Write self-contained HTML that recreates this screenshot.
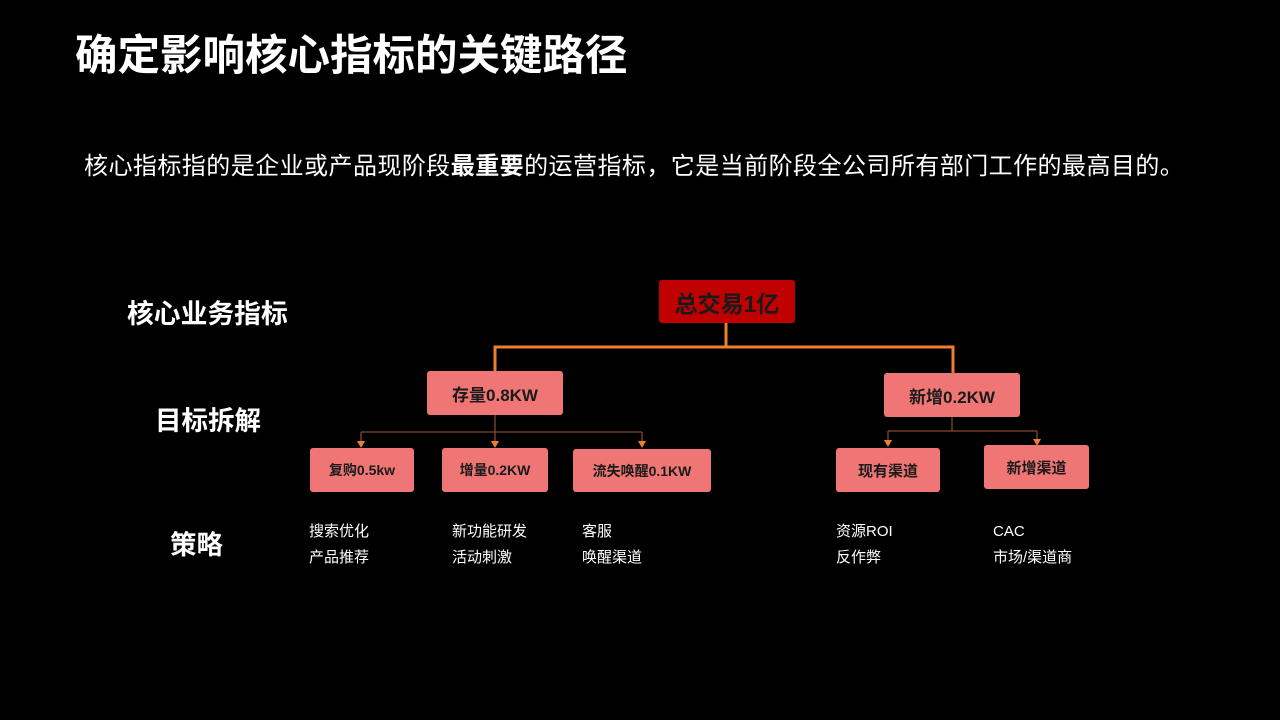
<!DOCTYPE html>
<html><head><meta charset="utf-8"><style>
html,body{margin:0;padding:0;background:#000;width:1280px;height:720px;overflow:hidden;position:relative;font-family:"Liberation Sans","Noto Sans CJK SC",sans-serif}
.t{position:absolute;white-space:nowrap;color:#fff}
.b{position:absolute;background:#f07575;border-radius:3px;color:#1a1a1a;font-weight:bold;display:flex;align-items:center;justify-content:center;white-space:nowrap}
.s{position:absolute;color:#fff;font-size:15px;line-height:26px;white-space:nowrap}
</style></head><body>
<div class="t" style="left:75px;top:30px;font-size:42.5px;font-weight:bold;line-height:54px">确定影响核心指标的关键路径</div>
<div class="t" style="left:84px;top:152px;font-size:24px;letter-spacing:0.45px;line-height:30px">核心指标指的是企业或产品现阶段<b>最重要</b>的运营指标，它是当前阶段全公司所有部门工作的最高目的。</div>
<div class="t" style="left:127px;top:298px;font-size:26.8px;font-weight:bold;line-height:32px">核心业务指标</div>
<div class="t" style="left:155px;top:405px;font-size:26.5px;font-weight:bold;line-height:32px">目标拆解</div>
<div class="t" style="left:170px;top:529px;font-size:26.5px;font-weight:bold;line-height:32px">策略</div>

<svg style="position:absolute;left:0;top:0" width="1280" height="720">
<g stroke="#ed7d31" stroke-width="3" fill="none">
<path d="M726 323V347M495 371V347H953V373"/>
</g>
<g stroke="#7f4a2a" stroke-width="1.3" fill="none">
<path d="M495 415V432M361 432H642M361 432V442M495 432V442M642 432V442"/>
<path d="M952 417V431M888 431H1037M888 431V440M1037 431V439"/>
</g>
<g fill="#ed7d31">
<path d="M357 441h8l-4 7z"/><path d="M491 441h8l-4 7z"/><path d="M638 441h8l-4 7z"/>
<path d="M884 440h8l-4 7z"/><path d="M1033 439h8l-4 7z"/>
</g>
</svg>

<div class="b" style="left:659px;top:280px;width:136px;height:43px;background:#c00000;font-size:23px">总交易1亿</div>
<div class="b" style="left:427px;top:371px;width:136px;height:44px;font-size:17px">存量0.8KW</div>
<div class="b" style="left:884px;top:373px;width:136px;height:44px;font-size:17px">新增0.2KW</div>
<div class="b" style="left:310px;top:448px;width:104px;height:44px;font-size:14px">复购0.5kw</div>
<div class="b" style="left:442px;top:448px;width:106px;height:44px;font-size:14px">增量0.2KW</div>
<div class="b" style="left:573px;top:449px;width:138px;height:43px;font-size:14px">流失唤醒0.1KW</div>
<div class="b" style="left:836px;top:448px;width:104px;height:44px;font-size:15px">现有渠道</div>
<div class="b" style="left:984px;top:445px;width:105px;height:44px;font-size:15px">新增渠道</div>

<div class="s" style="left:309px;top:519px">搜索优化<br>产品推荐</div>
<div class="s" style="left:452px;top:519px">新功能研发<br>活动刺激</div>
<div class="s" style="left:582px;top:519px">客服<br>唤醒渠道</div>
<div class="s" style="left:836px;top:519px">资源ROI<br>反作弊</div>
<div class="s" style="left:993px;top:519px">CAC<br>市场/渠道商</div>
</body></html>
